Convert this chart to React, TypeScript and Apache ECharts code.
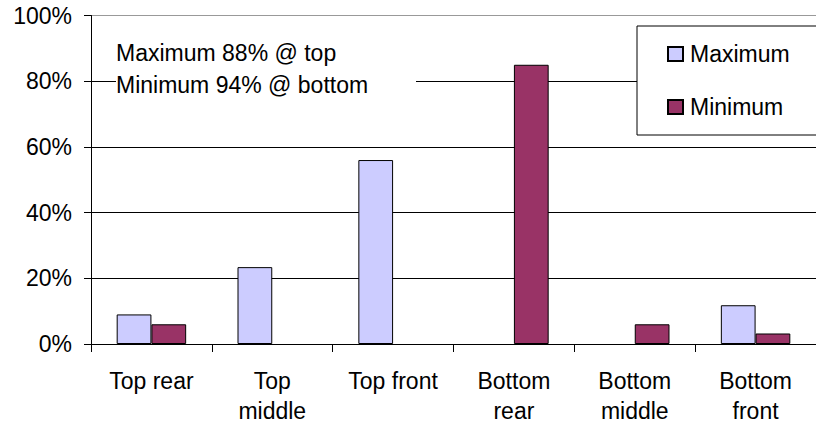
import React, { useEffect, useRef } from "react";
import * as echarts from "echarts";

// Chart data
const categories = [
  "Top rear",
  "Top\nmiddle",
  "Top front",
  "Bottom\nrear",
  "Bottom\nmiddle",
  "Bottom\nfront",
];
const maximumValues: (number | null)[] = [9, 23.4, 56, null, null, 11.8];
const minimumValues: (number | null)[] = [6, null, null, 85, 6, 3.2];
const seriesNames = ["Maximum", "Minimum"];
const noteLines = ["Maximum 88% @ top", "Minimum 94% @ bottom"];

const FONT = "Liberation Sans, Arial, sans-serif";

export default function App() {
  const ref = useRef<HTMLDivElement>(null);

  useEffect(() => {
    document.body.style.margin = "0";
    if (!ref.current) return;
    const chart = echarts.init(ref.current, undefined, { renderer: "svg" });

    chart.setOption({
      animation: false,
      backgroundColor: "#ffffff",
      textStyle: { fontFamily: FONT },
      grid: { left: 91, top: 15.5, width: 730, height: 333, containLabel: false },
      xAxis: {
        type: "category",
        data: categories,
        axisLine: { lineStyle: { color: "#000", width: 1 } },
        axisTick: { show: true, length: 8, interval: 0, lineStyle: { color: "#000" } },
        axisLabel: {
          interval: 0,
          margin: 22,
          fontSize: 23,
          lineHeight: 30,
          color: "#000",
          fontFamily: FONT,
        },
        splitLine: { show: false },
      },
      yAxis: {
        type: "value",
        min: 0,
        max: 100,
        interval: 20,
        axisLine: { show: true, lineStyle: { color: "#000", width: 1 } },
        axisTick: { show: true, length: 7, lineStyle: { color: "#000" } },
        axisLabel: {
          formatter: "{value}%",
          margin: 19,
          fontSize: 23,
          color: "#000",
          fontFamily: FONT,
        },
        splitLine: {
          show: true,
          lineStyle: {
            color: ["#000", "#000", "#000", "#000", "#000", "#999"],
            width: 1,
          },
        },
      },
      legend: {
        orient: "vertical",
        left: 667,
        top: 42,
        padding: 0,
        itemWidth: 15,
        itemHeight: 14,
        itemGap: 29,
        icon: "rect",
        data: seriesNames,
        textStyle: {
          fontSize: 23,
          lineHeight: 24,
          color: "#000",
          fontFamily: FONT,
          padding: [0, 0, 0, 2],
        },
        z: 5,
      },
      graphic: [
        {
          type: "rect",
          z: 3,
          shape: { x: 637, y: 26, width: 220, height: 109 },
          style: { fill: "#fff", stroke: "#000", lineWidth: 1 },
        },
        {
          type: "rect",
          z: 1,
          shape: { x: 116, y: 36, width: 300, height: 66 },
          style: { fill: "#fff" },
        },
        {
          type: "text",
          z: 2,
          x: 116,
          y: 37,
          style: {
            text: noteLines.join("\n"),
            font: `23px ${FONT}`,
            lineHeight: 32,
            fill: "#000",
            verticalAlign: "top",
          },
        },
      ],
      series: [
        {
          name: seriesNames[0],
          type: "bar",
          data: maximumValues.map((v) => (v === null ? "-" : v)),
          barGap: "0%",
          barCategoryGap: "42.5%",
          itemStyle: { color: "#CCCCFF", borderColor: "#000", borderWidth: 1 },
        },
        {
          name: seriesNames[1],
          type: "bar",
          data: minimumValues.map((v) => (v === null ? "-" : v)),
          barGap: "0%",
          barCategoryGap: "42.5%",
          itemStyle: { color: "#993366", borderColor: "#000", borderWidth: 1 },
        },
      ],
    });

    return () => chart.dispose();
  }, []);

  return <div ref={ref} style={{ width: 816, height: 426 }} />;
}
